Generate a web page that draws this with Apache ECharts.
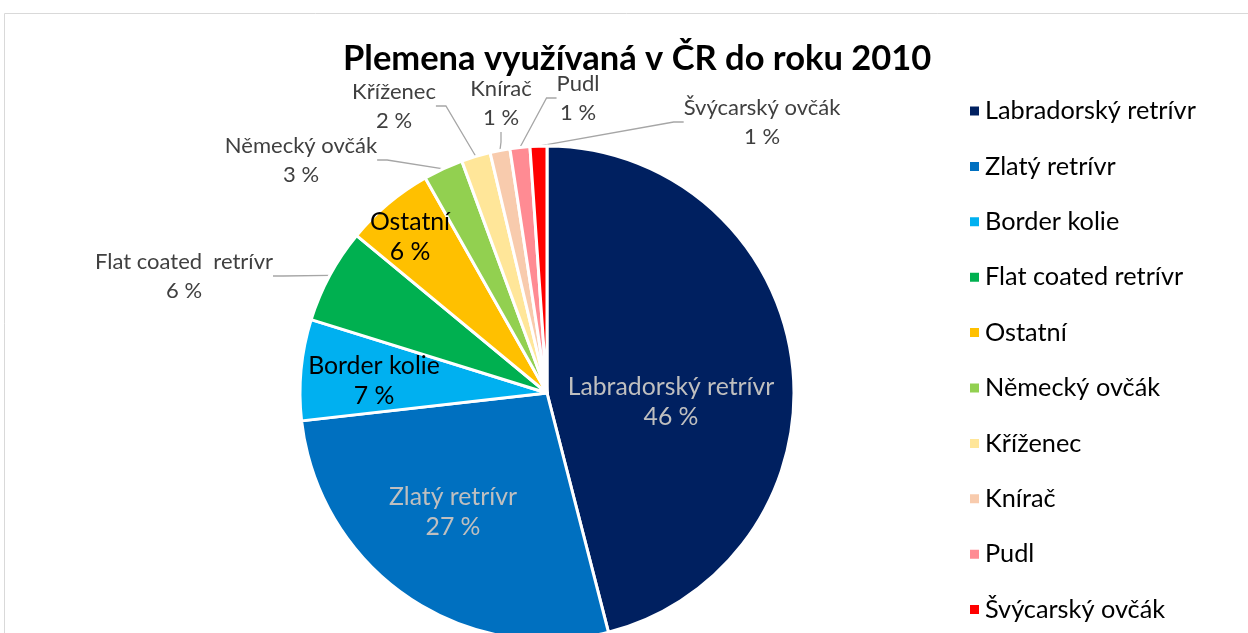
<!DOCTYPE html>
<html>
<head>
<meta charset="utf-8">
<title>Plemena využívaná v ČR do roku 2010</title>
<script src="https://cdn.jsdelivr.net/npm/echarts@6/dist/echarts.min.js"></script>
<style>
  html, body { margin: 0; padding: 0; background: #fff; }
  #chart { width: 1248px; height: 633px; }
</style>
</head>
<body>
<div id="chart"></div>
<script>
// Data
const breeds = ['Labradorský retrívr', 'Zlatý retrívr', 'Border kolie', 'Flat coated retrívr', 'Ostatní',
  'Německý ovčák', 'Kříženec', 'Knírač', 'Pudl', 'Švýcarský ovčák'];
const shares = [46.0, 27.2, 6.6, 6.2, 5.8, 2.6, 1.9, 1.3, 1.3, 1.1];
// text on the slices (the original has a double space in "Flat coated  retrívr")
const sliceLabels = ['Labradorský retrívr', 'Zlatý retrívr', 'Border kolie', 'Flat coated  retrívr', 'Ostatní',
  'Německý ovčák', 'Kříženec', 'Knírač', 'Pudl', 'Švýcarský ovčák'];

const colors = ['#002060', '#0070c0', '#00b0f0', '#00b050', '#ffc000', '#92d050', '#ffe699', '#f8cbad', '#ff8b93', '#ff0000'];
const insideIdx = [0, 1, 2, 4];
const font = 'Lato, "Noto Sans", sans-serif';

// where Excel had the label boxes (centre of the text block)
const labelSpots = [
  [671, 402], [453, 512], [374, 381], [184, 276], [410, 237],
  [301, 160], [394, 106], [501, 103], [578, 98], [762, 122]
];

const chart = echarts.init(document.getElementById('chart'));

const pieData = breeds.map((name, i) => {
  const inside = insideIdx.includes(i);
  return {
    name: name,
    value: shares[i],
    itemStyle: { color: colors[i] },
    label: inside ? {
      position: 'inside',
      fontSize: 24.8,
      lineHeight: 30,
      color: i < 2 ? '#bfbfbf' : '#000'
    } : { position: 'outside' },
    labelLine: { show: !inside }
  };
});

const option = {
  animation: false,
  title: {
    text: 'Plemena využívaná v ČR do roku 2010',
    left: 338,
    top: 36,
    textStyle: {
      fontFamily: font,
      fontWeight: 'bold',
      fontSize: 34.5,
      color: '#000'
    }
  },
  legend: {
    orient: 'vertical',
    left: 963,
    top: 93,
    icon: 'rect',
    itemWidth: 11,
    itemHeight: 11,
    itemGap: 29.4,
    data: breeds,
    selectedMode: false,
    textStyle: {
      fontFamily: font,
      fontSize: 25.3,
      lineHeight: 26,
      color: '#000'
    }
  },
  graphic: [{
    type: 'rect',
    silent: true,
    shape: { x: 4.5, y: 13.5, width: 1300, height: 700 },
    style: { fill: 'none', stroke: '#d9d9d9', lineWidth: 1 }
  }],
  series: [{
    type: 'pie',
    center: [547, 393],
    radius: 247,
    startAngle: 90,
    clockwise: true,
    avoidLabelOverlap: false,
    emphasis: { disabled: true },
    itemStyle: { borderColor: '#fff', borderWidth: 3 },
    label: {
      show: true,
      fontFamily: font,
      fontSize: 22,
      lineHeight: 29,
      color: '#404040',
      formatter: p => `{c|${sliceLabels[p.dataIndex]}}\n{c|${Math.round(p.percent)} %}`,
      rich: { c: { align: 'center' } }
    },
    labelLine: {
      length: 10,
      length2: 10,
      lineStyle: { color: '#a6a6a6', width: 1.3 }
    },
    labelLayout: p => ({
      x: labelSpots[p.dataIndex][0],
      y: labelSpots[p.dataIndex][1],
      align: 'center',
      verticalAlign: 'middle'
    }),
    data: pieData
  }]
};

chart.setOption(option);
</script>
</body>
</html>
